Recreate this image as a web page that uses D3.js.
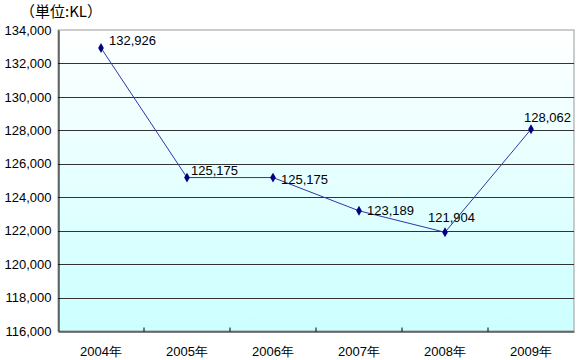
<!DOCTYPE html>
<html><head><meta charset="utf-8">
<script src="https://cdn.jsdelivr.net/npm/d3@7/dist/d3.min.js"></script>
<style>body{margin:0;background:#fff}svg{display:block}text{font-family:"Liberation Sans",Arial,sans-serif;fill:#000}</style>
</head><body><svg id="c" width="580" height="360"></svg>
<script>
const categories = ["2004年","2005年","2006年","2007年","2008年","2009年"];
const values = [132926,125175,125175,123189,121904,128062];
const yTicks = [116000,118000,120000,122000,124000,126000,128000,130000,132000,134000];
const unitLabel = "（単位:KL）";
// label placement offsets relative to point (layout only)
const labelOffsets = [[8,-3],[4,-3],[8,6],[8,4],[-17,-10],[-7,-7]];

const svg = d3.select("#c");
const m = {l:58, r:6, t:30, b:29};
const W = 580, H = 360;
const x = d3.scaleBand().domain(categories).range([m.l, W-m.r]);
const y = d3.scaleLinear().domain([116000,134000]).range([H-m.b, m.t]);

const defs = svg.append("defs");
const g = defs.append("linearGradient").attr("id","bg").attr("x1",0).attr("x2",0).attr("y1",0).attr("y2",1);
g.append("stop").attr("offset","0%").attr("stop-color","#ffffff");
g.append("stop").attr("offset","100%").attr("stop-color","#ccffff");

svg.append("rect").attr("x",m.l).attr("y",m.t).attr("width",W-m.r-m.l).attr("height",H-m.b-m.t)
  .attr("fill","url(#bg)").attr("stroke","#999").attr("stroke-width",1);

// gridlines
svg.append("g").selectAll("line").data(yTicks.filter(d=>d>116000 && d<134000)).join("line")
  .attr("x1",m.l).attr("x2",W-m.r).attr("y1",d=>Math.round(y(d))+0.5).attr("y2",d=>Math.round(y(d))+0.5)
  .attr("stroke","#333").attr("stroke-width",1.2);

// y axis
const ya = svg.append("g").attr("transform",`translate(${m.l+0.5},0)`)
  .call(d3.axisLeft(y).tickValues(yTicks).tickFormat(d3.format(",")).tickSize(0).tickPadding(7));
ya.select(".domain").attr("stroke","#000");
ya.selectAll("text").attr("font-size",13).attr("fill","#000");

// x axis
const xa = svg.append("g").attr("transform",`translate(0,${H-m.b+0.5})`)
  .call(d3.axisBottom(x).tickSize(0).tickPadding(15));
xa.select(".domain").attr("stroke","#000");
xa.selectAll("text").attr("font-size",13).attr("fill","#000");
// inner ticks at band boundaries
xa.append("g").selectAll("line").data(categories.slice(1)).join("line")
  .attr("x1",d=>x(d)).attr("x2",d=>x(d)).attr("y1",0).attr("y2",-4).attr("stroke","#000");

// line
const pts = categories.map((c,i)=>[x(c)+x.bandwidth()/2, y(values[i])]);
svg.append("path").attr("d",d3.line()(pts)).attr("fill","none").attr("stroke","#3333aa").attr("stroke-width",1);
svg.append("g").selectAll("path").data(pts).join("path")
  .attr("transform",d=>`translate(${d[0]},${d[1]})`)
  .attr("d",d3.symbol(d3.symbolDiamond,28)).attr("fill","#000080");

// labels
svg.append("g").selectAll("text").data(values).join("text")
  .attr("x",(d,i)=>pts[i][0]+labelOffsets[i][0]).attr("y",(d,i)=>pts[i][1]+labelOffsets[i][1])
  .attr("font-size",13).text(d=>d3.format(",")(d));

svg.append("text").attr("x",20).attr("y",17).attr("font-size",15)
  .style("font-family","'Noto Sans CJK JP',sans-serif").text(unitLabel);
</script></body></html>
